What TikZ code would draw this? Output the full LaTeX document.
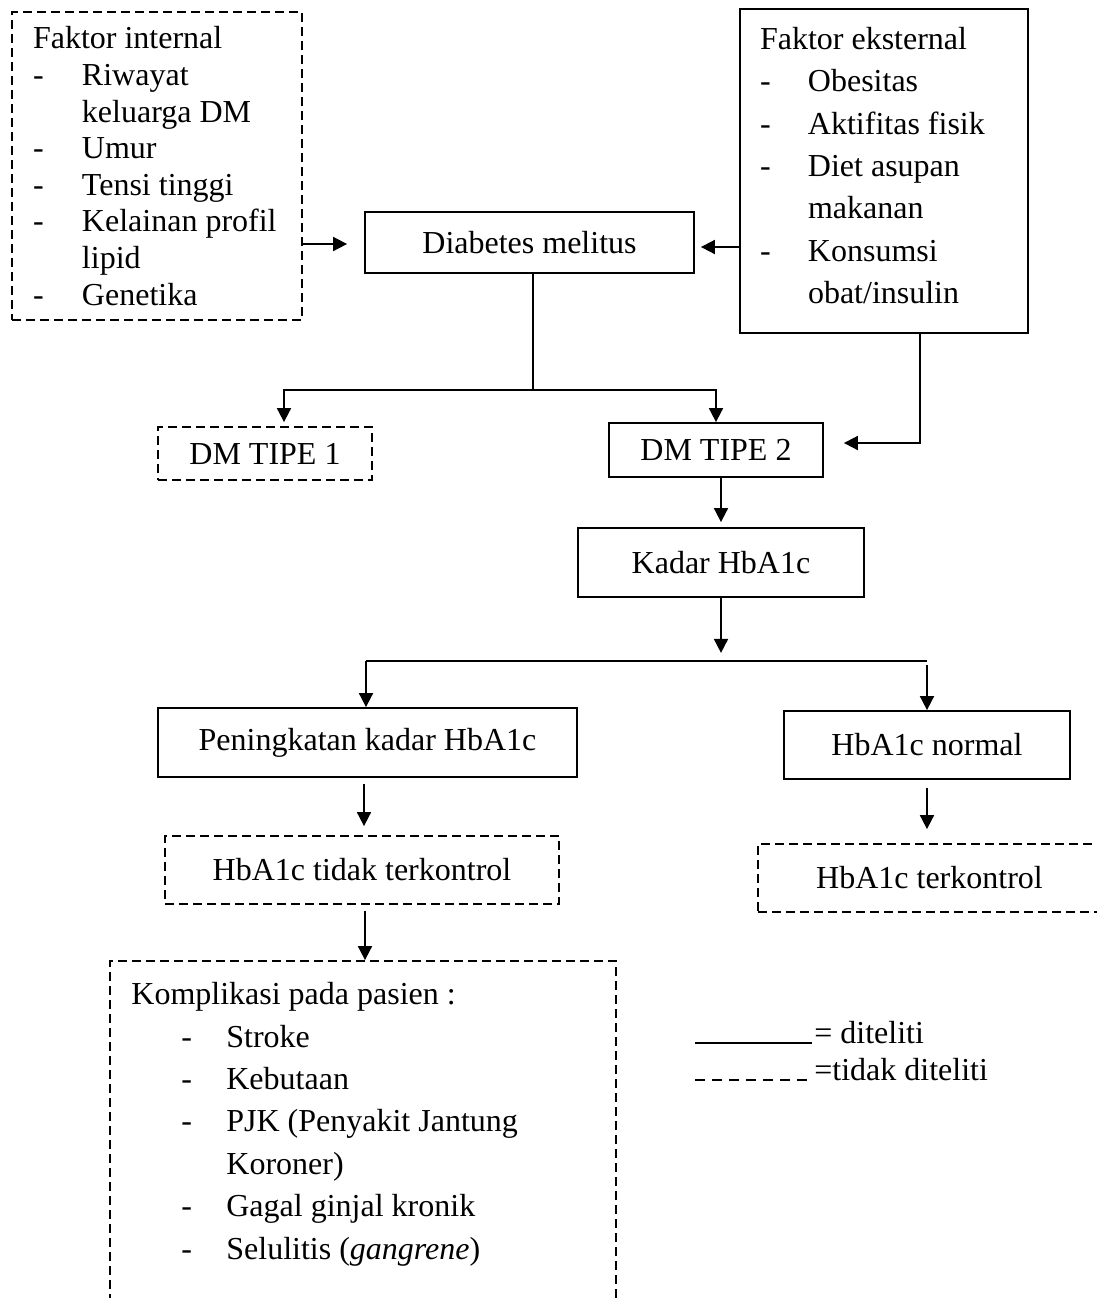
\documentclass[tikz,border=0pt]{standalone}
\usepackage{fontspec}
\setmainfont{Liberation Serif}
\usepackage{tikz}
\usetikzlibrary{positioning,arrows.meta}

\newcommand{\dashitem}[2][24.5pt]{\makebox[#1][l]{-}#2}
\newcommand{\contline}[2][24.5pt]{\hspace*{#1}#2}

\begin{document}
\begin{tikzpicture}[
        x=0.5pt, y=-0.5pt,
        box/.style={rectangle, draw, line width=0.9pt, inner sep=0pt, font=\fontsize{16}{19}\selectfont},
        dashbox/.style={box, dash pattern=on 4.5pt off 2.5pt},
        listbox/.style={align=flush left, inner ysep=0pt},
        arrow/.style={-{Triangle[length=7pt,width=7pt]}, line width=0.9pt},
        line/.style={line width=0.9pt},
        legend/.style={anchor=base west, inner sep=0pt, font=\fontsize{16}{19}\selectfont}
    ]
    \useasboundingbox (0,0) rectangle (1097,1298);

    % Faktor
    \node[dashbox, listbox, font=\fontsize{16}{18.3}\selectfont, text width=124pt, inner xsep=10.5pt, minimum height=154pt] (intern) at (157,166) {Faktor internal\\
        \dashitem{Riwayat}\\
        \contline{keluarga DM}\\
        \dashitem{Umur}\\
        \dashitem{Tensi tinggi}\\
        \dashitem{Kelainan profil}\\
        \contline{lipid}\\
        \dashitem{Genetika}};
    \node[box, listbox, font=\fontsize{16}{21.2}\selectfont, text width=124pt, inner xsep=10pt, minimum height=162pt] (ekstern) at (884,171) {Faktor eksternal\\
        \dashitem[24pt]{Obesitas}\\
        \dashitem[24pt]{Aktifitas fisik}\\
        \dashitem[24pt]{Diet asupan}\\
        \contline[24pt]{makanan}\\
        \dashitem[24pt]{Konsumsi}\\
        \contline[24pt]{obat/insulin}\\[-15.5pt]\mbox{}};

    % Diabetes
    \node[box, minimum width=164.5pt, minimum height=30.5pt] (diab) at (529.5,242.5) {Diabetes melitus};
    \node[dashbox, minimum width=107pt, minimum height=26.5pt] (tipe1) at (265,453.5) {DM TIPE 1};
    \node[box, minimum width=107pt, minimum height=27pt] (tipe2) at (716,450) {DM TIPE 2};

    % HbA1c
    \node[box, minimum width=143pt, minimum height=34.5pt] (kadar) at (721,562.5) {Kadar HbA1c};
    \node[box, minimum width=209.5pt, minimum height=34.5pt] (naik) at (367.5,742.5) {Peningkatan kadar HbA1c};
    \node[box, minimum width=143pt, minimum height=34pt] (normal) at (927,745) {HbA1c normal};
    \node[dashbox, minimum width=197pt, minimum height=34pt] (tidak) at (362,870) {HbA1c tidak terkontrol};
    \node[dashbox, minimum width=171.5pt, minimum height=34pt] (kontrol) at (929.5,878) {HbA1c terkontrol};

    % Komplikasi
    \node[dashbox, minimum width=253pt, minimum height=174.5pt] (kompl) at (363,1135.5) {};
    \node[listbox, anchor=north west, inner sep=0pt, font=\fontsize{16}{21.2}\selectfont] (kompltext) at (131,982) {Komplikasi pada pasien :\\
        \contline[25pt]{\dashitem[22.5pt]{Stroke}}\\
        \contline[25pt]{\dashitem[22.5pt]{Kebutaan}}\\
        \contline[25pt]{\dashitem[22.5pt]{PJK (Penyakit Jantung}}\\
        \contline[47.5pt]{Koroner)}\\
        \contline[25pt]{\dashitem[22.5pt]{Gagal ginjal kronik}}\\
        \contline[25pt]{\dashitem[22.5pt]{Selulitis (\textit{gangrene})}}};

    % Arrows
    \draw[arrow, shorten >=8.5pt] (intern.east |- 0,244) -- (diab.west |- 0,244);
    \draw[arrow, shorten >=3pt] (ekstern.west |- 0,247) -- (diab.east |- 0,247);
    \draw[line] ([xshift=1.75pt]diab.south) -- ++(0,116) coordinate (split1);
    \draw[arrow, shorten >=2pt] (split1) -| ([xshift=9.5pt]tipe1.north);
    \draw[arrow] (split1) -| (tipe2.north);
    \draw[arrow, shorten >=10pt] ([xshift=18pt]ekstern.south) |- ([yshift=3.5pt]tipe2.east);
    \draw[arrow, shorten >=2.5pt] (tipe2.south -| kadar.north) -- (kadar.north);
    \draw[arrow] (kadar.south) -- ++(0,55);
    \coordinate (hl) at (366,661);
    \coordinate (hr) at (927,661);
    \draw[line] (hl) -- (hr);
    \draw[arrow] (hl) -- (hl |- naik.north);
    \draw[arrow, shorten <=2pt] (hr) -- (hr |- normal.north);
    \draw[arrow, shorten <=3pt, shorten >=4.5pt] ([xshift=1pt]tidak.north |- naik.south) -- ([xshift=1pt]tidak.north);
    \draw[arrow, shorten <=4pt, shorten >=7pt] (normal.south) -- (normal.south |- kontrol.north);
    \draw[arrow, shorten <=3pt] ([xshift=1.5pt]tidak.south) -- ([xshift=1.5pt]tidak.south |- kompl.north);

    % Legend
    \node[legend] (legok) at (814,1043) {= diteliti};
    \node[legend] (legno) at (814,1080) {=tidak diteliti};
    \coordinate (okstart) at (695,1043);
    \coordinate (nostart) at (695,1080);
    \draw[line width=1pt] (okstart) -- ([xshift=-1pt]legok.base west);
    \draw[line width=0.9pt, dash pattern=on 5pt off 3.5pt] (nostart) -- ([xshift=-1pt]legno.base west);
\end{tikzpicture}
\end{document}
